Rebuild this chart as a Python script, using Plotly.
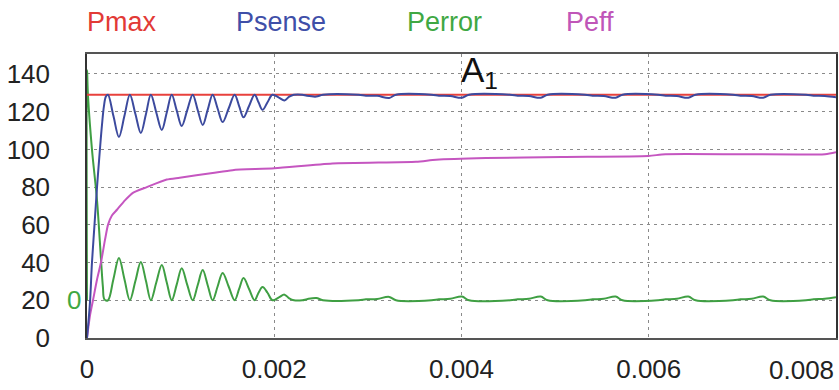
import plotly.graph_objects as go

# ---------------- data (time in seconds) ----------------
pmax_t = [0.0, 0.008]
pmax_v = [129, 129]

psense_t = [0.0, 0.000032, 0.000053, 0.000080, 0.000107, 0.000138, 0.000160, 0.000181, 0.000202, 0.000224,
            0.000282, 0.000341, 0.000400, 0.000458,
            0.000517, 0.000575, 0.000630, 0.000682,
            0.000740, 0.000799, 0.000852, 0.000905,
            0.000958, 0.001012, 0.001070, 0.001129,
            0.001182, 0.001236, 0.001289, 0.001342,
            0.001395, 0.001449, 0.001513, 0.001577,
            0.001625, 0.001672, 0.001731, 0.001790,
            0.001832, 0.001875, 0.001928, 0.001981,
            0.002050, 0.002109, 0.002160, 0.002210,
            0.002300, 0.002350, 0.002450, 0.002520,
            0.002900, 0.002980, 0.003100, 0.003228, 0.003300,
            0.003680, 0.003760, 0.003880, 0.004005, 0.004080,
            0.004520, 0.004600, 0.004720, 0.004847, 0.004920,
            0.005320, 0.005400, 0.005520, 0.005646, 0.005720,
            0.006100, 0.006180, 0.006300, 0.006423, 0.006500,
            0.006900, 0.006980, 0.007100, 0.007222, 0.007300,
            0.007680, 0.007760, 0.007880, 0.008000]
psense_v = [0, 19, 40, 60, 80, 100, 113, 123, 128, 129,
            117.8, 106.6, 117.8, 129,
            118.8, 108.7, 118.8, 129,
            119.6, 110.3, 119.6, 129,
            120.7, 112.4, 120.7, 129,
            121.0, 113.0, 121.0, 129,
            121.7, 114.5, 121.7, 129,
            123.0, 117.0, 123.0, 129,
            125.0, 121.0, 125.0, 129,
            127.5, 126.0, 128.0, 129,
            129, 128.4, 128.0, 129,
            129, 128.5, 128.4, 127.3, 129,
            129, 128.5, 128.3, 127.4, 129,
            129, 128.5, 128.3, 127.4, 129,
            129, 128.5, 128.3, 127.4, 129,
            129, 128.5, 128.3, 127.4, 129,
            129, 128.5, 128.3, 127.4, 129,
            129, 128.5, 128.3, 127.6]

perror_t = [0.0, 0.0, 0.000011, 0.000053, 0.000107, 0.000149, 0.000170, 0.000186, 0.000224,
            0.000282, 0.000341, 0.000400, 0.000458,
            0.000517, 0.000575, 0.000630, 0.000682,
            0.000740, 0.000799, 0.000852, 0.000905,
            0.000958, 0.001012, 0.001070, 0.001129,
            0.001182, 0.001236, 0.001289, 0.001342,
            0.001395, 0.001449, 0.001513, 0.001577,
            0.001625, 0.001672, 0.001731, 0.001790,
            0.001832, 0.001875, 0.001928, 0.001981,
            0.002050, 0.002109, 0.002160, 0.002210,
            0.002300, 0.002350, 0.002450, 0.002520,
            0.002900, 0.002980, 0.003100, 0.003228, 0.003300,
            0.003680, 0.003760, 0.003880, 0.004005, 0.004080,
            0.004520, 0.004600, 0.004720, 0.004847, 0.004920,
            0.005320, 0.005400, 0.005520, 0.005646, 0.005720,
            0.006100, 0.006180, 0.006300, 0.006423, 0.006500,
            0.006900, 0.006980, 0.007100, 0.007222, 0.007300,
            0.007680, 0.007760, 0.007880, 0.008000]
perror_v = [20, 142, 128, 100, 73, 42, 27, 20.5, 20,
            31.2, 42.4, 31.2, 20,
            30.2, 40.3, 30.2, 20,
            29.4, 38.7, 29.4, 20,
            28.3, 37.0, 28.3, 20,
            28.0, 36.0, 28.0, 20,
            27.3, 34.5, 27.3, 20,
            26.0, 31.8, 26.0, 20,
            24.0, 27.0, 24.0, 20,
            21.5, 23.0, 21.0, 20,
            20, 20.6, 21.2, 20,
            20, 20.5, 20.7, 21.8, 20,
            20, 20.5, 20.8, 22.0, 20,
            20, 20.5, 20.8, 22.0, 20,
            20, 20.5, 20.8, 22.0, 20,
            20, 20.5, 20.8, 22.0, 20,
            20, 20.5, 20.8, 22.0, 20,
            20, 20.5, 20.8, 21.6]

peff_t = [0.0, 0.000032, 0.000064, 0.000107, 0.000149, 0.000192, 0.000224, 0.000266, 0.000320,
          0.000405, 0.000490, 0.000639, 0.000852, 0.000990, 0.001342, 0.001555, 0.002003,
          0.002621, 0.003515, 0.003728, 0.004261, 0.005071, 0.005997, 0.006178, 0.007883, 0.008000]
peff_v = [0, 12, 20, 31, 40, 52, 60, 65, 68,
          73, 77, 80, 84, 85, 87.5, 89, 90,
          92.6, 93.5, 94.5, 95.4, 96.0, 96.5, 97.5, 97.5, 98.5]

x_ticks = [0, 0.002, 0.004, 0.006]
x_tick_labels = ["0", "0.002", "0.004", "0.006"]
x_last_tick = 0.008
x_last_label = "0.008"
y_ticks = [0, 20, 40, 60, 80, 100, 120, 140]

series_names = ["Pmax", "Psense", "Perror", "Peff"]
line_colors = ["#e8413c", "#3c4a9e", "#3f9f43", "#c556c0"]
text_colors = ["#e23a36", "#3f4fa8", "#3fa843", "#c056b8"]

# ---------------- figure ----------------
FONT = "Liberation Sans, Arial, sans-serif"
fig = go.Figure()

fig.add_trace(go.Scatter(x=perror_t, y=perror_v, mode="lines", name=series_names[2],
                         line=dict(color=line_colors[2], width=2, shape="spline", smoothing=1.0)))
fig.add_trace(go.Scatter(x=peff_t, y=peff_v, mode="lines", name=series_names[3],
                         line=dict(color=line_colors[3], width=2, shape="spline", smoothing=0.6)))
fig.add_trace(go.Scatter(x=pmax_t, y=pmax_v, mode="lines", name=series_names[0],
                         line=dict(color=line_colors[0], width=2)))
fig.add_trace(go.Scatter(x=psense_t, y=psense_v, mode="lines", name=series_names[1],
                         line=dict(color=line_colors[1], width=2, shape="spline", smoothing=1.0)))

grid = dict(showgrid=True, gridcolor="#8a8a8a", gridwidth=1, griddash="3px,4px")

fig.update_layout(
    width=839, height=390,
    margin=dict(l=87, r=1, t=54, b=52),
    paper_bgcolor="white", plot_bgcolor="white",
    showlegend=False,
    font=dict(family=FONT, size=26, color="#222"),
    xaxis=dict(range=[0, 0.008], tickvals=x_ticks, ticktext=x_tick_labels,
               ticks="", ticklabelstandoff=7, zeroline=False,
               showline=True, mirror=True, linecolor="#555", linewidth=1.5, **grid),
    yaxis=dict(range=[0, 150.6], tickvals=y_ticks, ticks="", ticklabelstandoff=30,
               zeroline=False, showline=True, mirror=True, linecolor="#333", linewidth=1.5, **grid),
)

# last x tick label, kept inside the page
fig.add_annotation(x=x_last_tick, y=0, xref="x", yref="y", yshift=-32, text=x_last_label,
                   showarrow=False, xanchor="right", yanchor="middle",
                   font=dict(size=26, color="#222", family=FONT))

# legend-like coloured labels across the top
legend_x = [-0.003, 0.196, 0.425, 0.637]
for name, col, lx in zip(series_names, text_colors, legend_x):
    fig.add_annotation(x=lx, y=1.113, xref="paper", yref="paper", text=name, showarrow=False,
                       xanchor="left", yanchor="middle", font=dict(size=27, color=col, family=FONT))

# green zero marker for Perror axis
fig.add_annotation(x=-0.006, y=20, xref="paper", yref="y", text="0", showarrow=False,
                   xanchor="right", yanchor="middle", font=dict(size=26, color=text_colors[2], family=FONT))

# A1 label
fig.add_annotation(x=0.004, y=141, xref="x", yref="y", text="A<sub>1</sub>", showarrow=False,
                   xanchor="left", yanchor="middle", xshift=-3,
                   font=dict(size=35, color="#111", family=FONT))

fig.write_html("out.html")
